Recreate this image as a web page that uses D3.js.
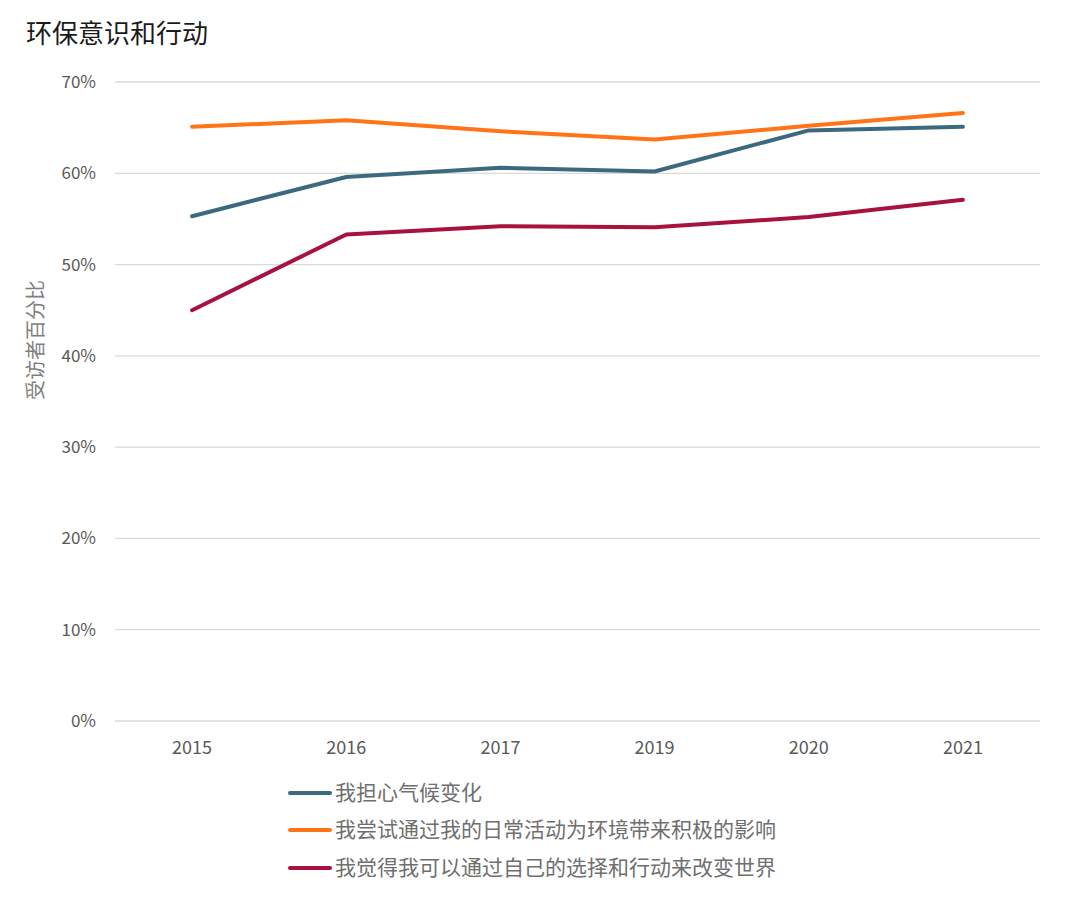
<!DOCTYPE html>
<html><head><meta charset="utf-8">
<script src="https://cdn.jsdelivr.net/npm/d3@7"></script>
<style>
body{margin:0;background:#fff;}
text{font-family:"Noto Sans CJK SC","Open Sans",sans-serif;}
</style></head>
<body><svg id="c" width="1080" height="907"></svg>
<script>
const years = ["2015","2016","2017","2019","2020","2021"];
const worry = [55.3, 59.6, 60.6, 60.2, 64.7, 65.1];
const tryDaily = [65.1, 65.8, 64.6, 63.7, 65.2, 66.6];
const canChange = [45.0, 53.3, 54.2, 54.1, 55.2, 57.1];
const seriesNames = ["我担心气候变化","我尝试通过我的日常活动为环境带来积极的影响","我觉得我可以通过自己的选择和行动来改变世界"];
const yTicks = [0,10,20,30,40,50,60,70];
const colors = ["#3b6a80","#ff7417","#a8123e"];

const svg = d3.select("#c");
const x = d3.scalePoint().domain(years).range([115,1040]).padding(0.5);
const y = d3.scaleLinear().domain([0,70]).range([721,82]);

svg.append("text").attr("x",26).attr("y",43).attr("font-size",26).attr("fill","#1a1a1a").text("环保意识和行动");

const g = svg.append("g");
g.selectAll("line.grid").data(yTicks).join("line")
  .attr("x1",115).attr("x2",1040).attr("y1",d=>y(d)).attr("y2",d=>y(d))
  .attr("stroke","#d9d9d9").attr("stroke-width",1.3);
g.selectAll("text.yt").data(yTicks).join("text")
  .attr("x",96).attr("y",d=>y(d)+6).attr("text-anchor","end")
  .attr("font-size",17).attr("fill","#595959").attr("font-family","'Open Sans',sans-serif").text(d=>d+"%");
g.selectAll("text.xt").data(years).join("text")
  .attr("x",d=>x(d)).attr("y",754).attr("text-anchor","middle")
  .attr("font-size",18).attr("fill","#595959").attr("font-family","'Open Sans',sans-serif").text(d=>d);

svg.append("text").attr("transform","translate(43,340) rotate(-90)").attr("text-anchor","middle")
  .attr("font-size",20).attr("fill","#7f7f7f").text("受访者百分比");

const data = [worry, tryDaily, canChange];
const line = d3.line().x((d,i)=>x(years[i])).y(d=>y(d));
[2,0,1].forEach(k=>{
  svg.append("path").attr("d",line(data[k])).attr("fill","none")
    .attr("stroke",colors[k]).attr("stroke-width",4).attr("stroke-linecap","round").attr("stroke-linejoin","round");
});

const legY = [793,830,868];
seriesNames.forEach((n,i)=>{
  svg.append("line").attr("x1",290).attr("x2",330).attr("y1",legY[i]).attr("y2",legY[i])
    .attr("stroke",colors[i]).attr("stroke-width",4).attr("stroke-linecap","round");
  svg.append("text").attr("x",335).attr("y",legY[i]+7).attr("font-size",21).attr("fill","#6f6f6f").text(n);
});
</script></body></html>
